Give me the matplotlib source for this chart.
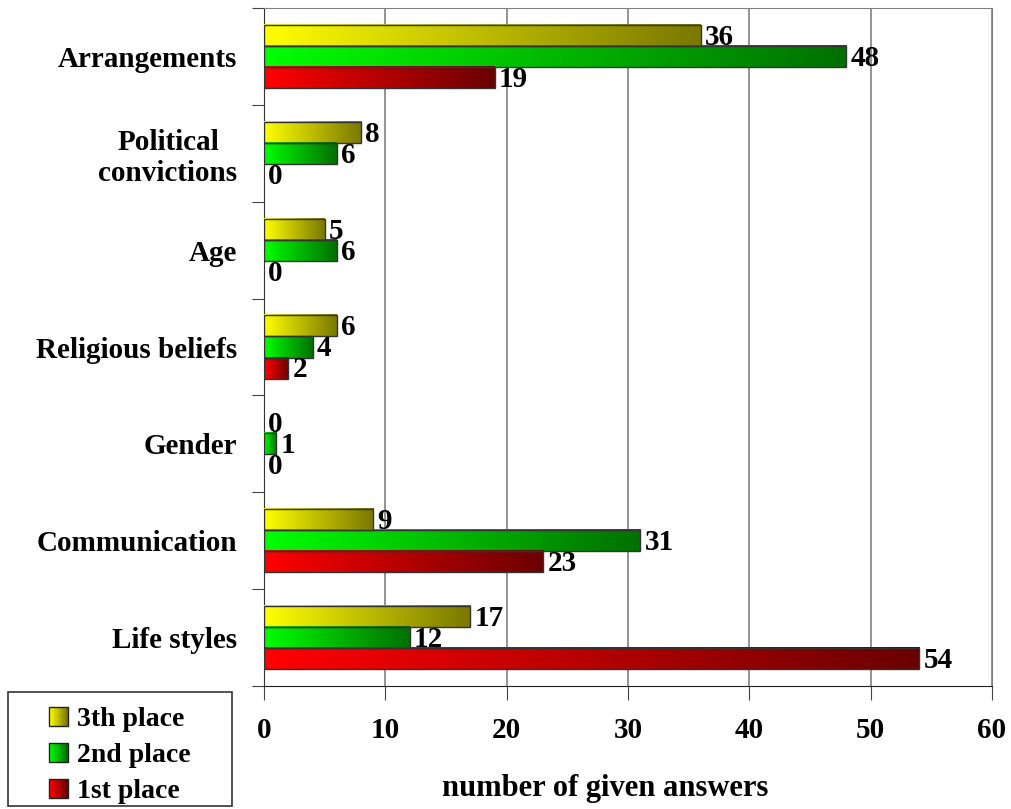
import numpy as np
import matplotlib
matplotlib.use('Agg')
import matplotlib.pyplot as plt
from matplotlib.patches import Rectangle
from matplotlib.colors import LinearSegmentedColormap
from matplotlib.legend_handler import HandlerBase

plt.rcParams['font.family'] = ['Liberation Serif', 'DejaVu Serif']
plt.rcParams['font.weight'] = 'bold'

categories = ['Arrangements', 'Political\nconvictions', 'Age', 'Religious beliefs',
              'Gender', 'Communication', 'Life styles']
third = [36, 8, 5, 6, 0, 9, 17]
second = [48, 6, 6, 4, 1, 31, 12]
first = [19, 0, 0, 2, 0, 23, 54]
series_names = ['3th place', '2nd place', '1st place']

# gradient colours: light at the bar start, dark at the bar end
grads = [
    LinearSegmentedColormap.from_list('yel', ['#ffff00', '#7a7800']),
    LinearSegmentedColormap.from_list('grn', ['#00ff00', '#007000']),
    LinearSegmentedColormap.from_list('red', ['#ff0000', '#6a0000']),
]

fig = plt.figure(figsize=(10.11, 8.09), dpi=100)
ax = fig.add_axes([264 / 1011, 1 - 686 / 809, (992 - 264) / 1011, (686 - 8) / 809])

n = len(categories)
ypos = np.arange(n)[::-1]
h = 0.217
offsets = [h, 0, -h]
grad_img = np.linspace(0, 1, 256).reshape(1, -1)

for vals, off, cmap in zip([third, second, first], offsets, grads):
    for y, v in zip(ypos, vals):
        yc = y + off
        if v > 0:
            ax.imshow(grad_img, cmap=cmap, aspect='auto', interpolation='bilinear',
                      extent=[0, v, yc - h / 2, yc + h / 2], zorder=3)
            ax.add_patch(Rectangle((0, yc - h / 2), v, h, fill=False,
                                   edgecolor='#333333', linewidth=1, zorder=4))
        ax.text(v + 0.35, yc - 0.02, str(v), ha='left', va='center',
                fontsize=21, fontweight='bold', zorder=5)

ax.set_xlim(0, 60)
ax.set_ylim(-0.5, n - 0.5)
ax.set_xticks(range(0, 61, 10))
ax.set_yticks(np.arange(-0.5, n, 1.0))
ax.set_yticklabels([])
ax.set_yticks(ypos, minor=True)
ax.set_yticklabels(categories, minor=True, fontsize=21, fontweight='bold',
                   multialignment='center')
ax.tick_params(axis='y', which='minor', length=0, pad=19)
ax.tick_params(axis='y', which='major', length=9, direction='out', color='#444444')
ax.tick_params(axis='x', length=10, direction='out', color='#444444', labelsize=21, pad=12)
for lab in ax.get_xticklabels():
    lab.set_fontweight('bold')

ax.xaxis.grid(True, color='#808080', linewidth=1.2, zorder=0)
ax.set_axisbelow(True)
for s in ['top', 'right']:
    ax.spines[s].set_color('#808080')
ax.spines['left'].set_color('#333333')
ax.spines['bottom'].set_color('#222222')

ax.set_xlabel('number of given answers', fontsize=22, fontweight='bold')
ax.xaxis.set_label_coords((605 - 264) / 728, -88 / 678)


class GradHandler(HandlerBase):
    def __init__(self, cmap):
        super().__init__()
        self.cmap = cmap

    def create_artists(self, legend, orig_handle, xdescent, ydescent, width, height,
                       fontsize, trans):
        arts = []
        steps = 12
        side = height * 0.95
        x0 = width - side
        for i in range(steps):
            arts.append(Rectangle((x0 + side * i / steps, -ydescent), side / steps, side,
                                  facecolor=self.cmap(i / (steps - 1)), edgecolor='none',
                                  transform=trans))
        arts.append(Rectangle((x0, -ydescent), side, side, fill=False,
                              edgecolor='#222222', linewidth=1, transform=trans))
        return arts


# legend frame drawn separately so the entries sit centred in a wide box
fig.patches.append(Rectangle((8 / 1011, 3 / 809), 224 / 1011, 114 / 809, fill=False,
                             edgecolor='#333333', linewidth=1.2,
                             transform=fig.transFigure, figure=fig))
handles = [Rectangle((0, 0), 1, 1) for _ in series_names]
leg = fig.legend(handles, series_names, loc='center',
                 bbox_to_anchor=(119 / 1011, 1 - 755 / 809), frameon=False,
                 prop={'size': 20, 'weight': 'bold'},
                 handler_map={h_: GradHandler(c) for h_, c in zip(handles, grads)},
                 handlelength=0.75, handletextpad=0.35, labelspacing=0.38,
                 borderpad=0, borderaxespad=0)

fig.savefig('out.png', dpi=100)
